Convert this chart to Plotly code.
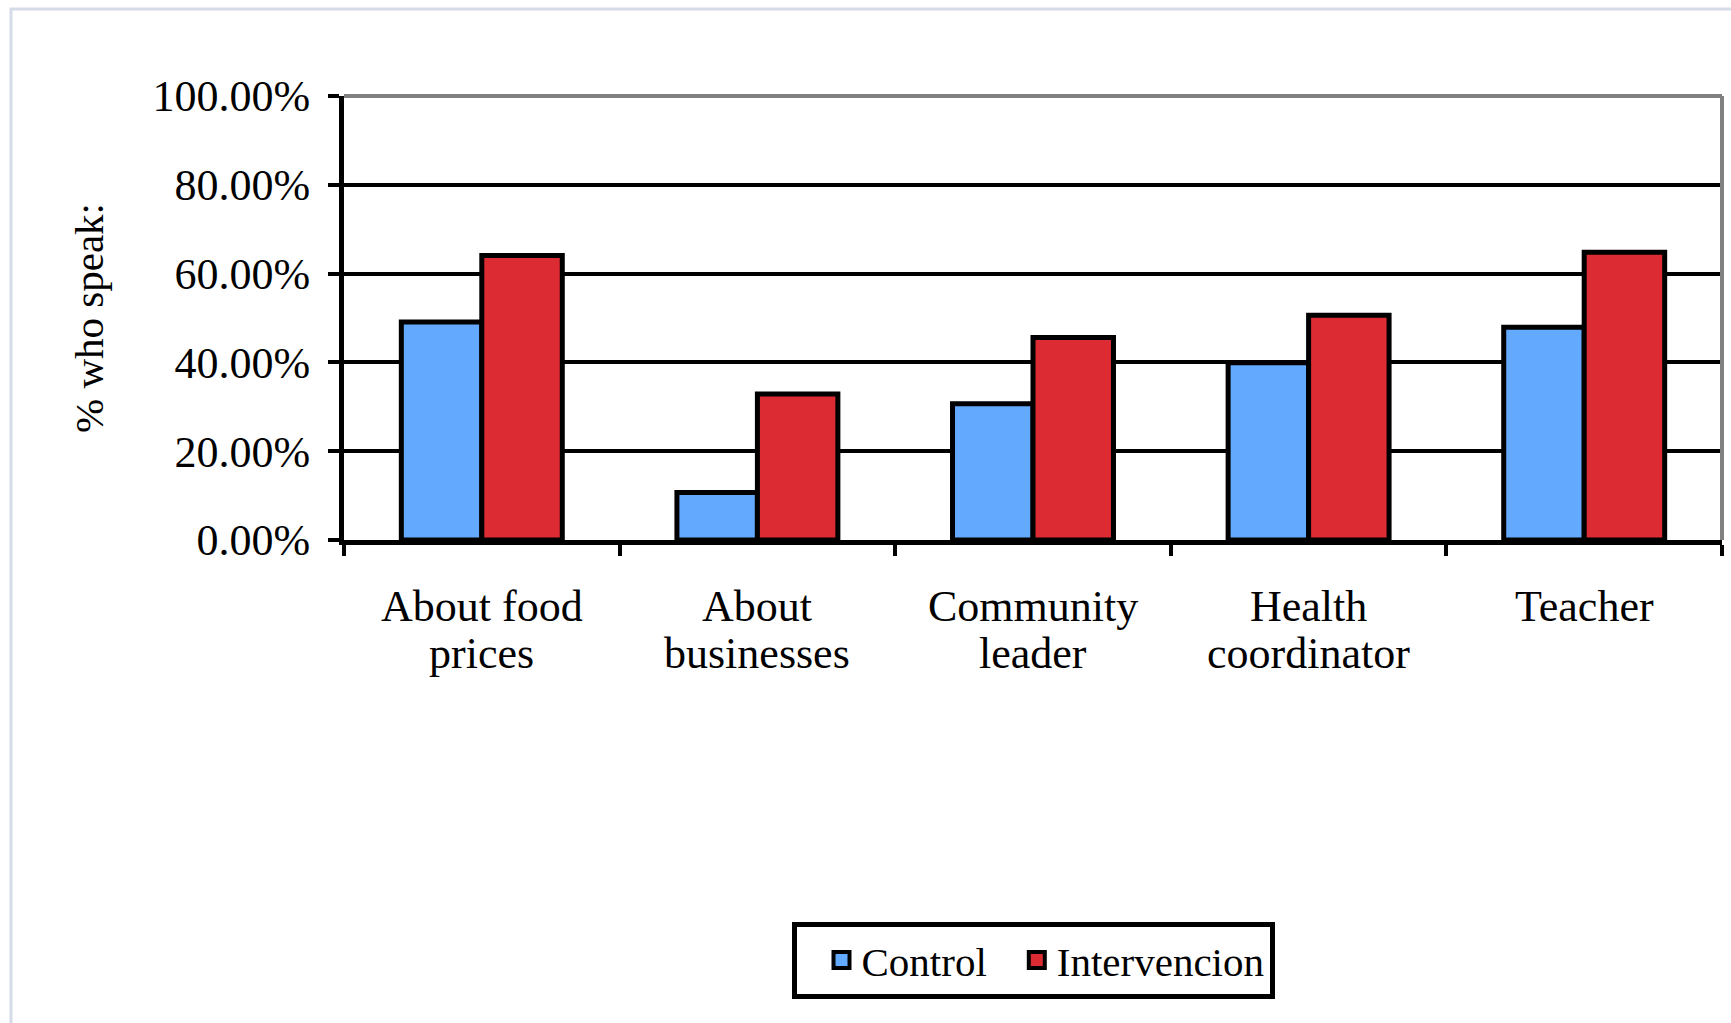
import plotly.graph_objects as go

categories = ["About food prices", "About businesses", "Community leader", "Health coordinator", "Teacher"]
label_line1 = ["About food", "About", "Community", "Health", "Teacher"]
label_line2 = ["prices", "businesses", "leader", "coordinator", ""]
control = [0.491, 0.107, 0.307, 0.399, 0.479]
intervencion = [0.641, 0.329, 0.456, 0.506, 0.648]
y_ticks = [0, 0.2, 0.4, 0.6, 0.8, 1.0]

FONT = "Liberation Serif"
BLUE = "#63A9FE"
RED = "#DC2B33"

fig = go.Figure()
fig.add_trace(go.Bar(name="Control", x=categories, y=control, showlegend=False,
                     marker=dict(color=BLUE, line=dict(color="black", width=5))))
fig.add_trace(go.Bar(name="Intervencion", x=categories, y=intervencion, showlegend=False,
                     marker=dict(color=RED, line=dict(color="black", width=5))))
# legend entries (square swatches with thick black outline, like the reference)
for nm, col in [("Control", BLUE), ("Intervencion", RED)]:
    fig.add_trace(go.Scatter(name=nm, x=[None], y=[None], mode="markers",
                             marker=dict(symbol="square", size=16, color=col,
                                         line=dict(color="black", width=4))))

fig.update_layout(
    width=1731, height=1023,
    margin=dict(l=344, r=9, t=96, b=483),
    paper_bgcolor="white", plot_bgcolor="white",
    barmode="group", bargap=0.416, bargroupgap=0,
    font=dict(family=FONT, size=41, color="black"),
    showlegend=True,
    legend=dict(orientation="h", x=0.5, xanchor="center", y=-0.86, yanchor="top",
                bordercolor="black", borderwidth=5, bgcolor="white",
                indentation=25,
                font=dict(family=FONT, size=41), traceorder="normal"),
    xaxis=dict(type="category", showline=True, linecolor="black", linewidth=5,
               ticks="outside", tickson="boundaries", ticklen=11, tickwidth=4,
               tickcolor="black", showgrid=False, showticklabels=False),
    yaxis=dict(range=[0, 1], tickvals=y_ticks, tickformat=".2%",
               showline=True, linecolor="black", linewidth=5,
               ticks="outside", ticklen=11, tickwidth=4, tickcolor="black",
               showgrid=True, gridcolor="black", gridwidth=4,
               zeroline=False, ticklabelstandoff=9,
               tickfont=dict(family=FONT, size=44),
               title=dict(text="% who speak:", standoff=38,
                          font=dict(family=FONT, size=41))),
)

# category labels, two lines each, placed on the category axis
for cat, l1, l2 in zip(categories, label_line1, label_line2):
    fig.add_annotation(x=cat, xref="x", y=0, yref="paper", text=l1, showarrow=False,
                       yanchor="middle", yshift=-66, font=dict(family=FONT, size=44))
    if l2:
        fig.add_annotation(x=cat, xref="x", y=0, yref="paper", text=l2, showarrow=False,
                           yanchor="middle", yshift=-113, font=dict(family=FONT, size=44))

# plot-area border (top and right, gray)
fig.add_shape(type="line", xref="paper", yref="paper", x0=0, x1=1, y0=1, y1=1,
              line=dict(color="#808080", width=4), layer="above")
fig.add_shape(type="line", xref="paper", yref="paper", x0=1, x1=1, y0=0, y1=1,
              line=dict(color="#808080", width=4), layer="above")
# outer chart frame
fig.add_shape(type="rect", xref="paper", yref="paper",
              x0=(11 - 344) / 1378, x1=1.05, y0=(540 - 1030) / 444, y1=(540 - 9) / 444,
              line=dict(color="#D5DCE8", width=3), layer="below")

fig.write_html("out.html")
